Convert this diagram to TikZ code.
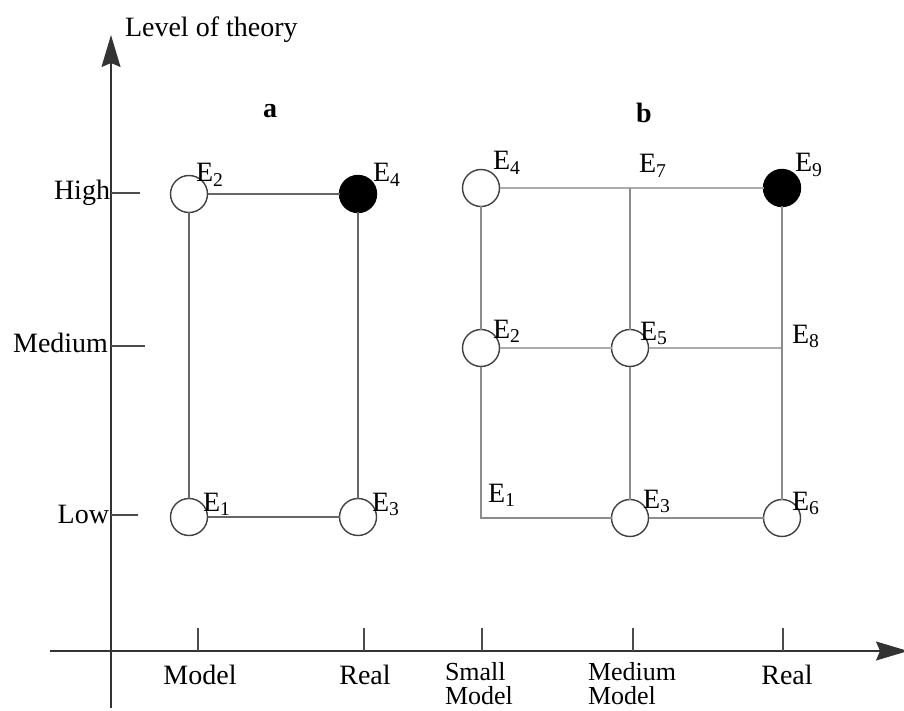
\documentclass[tikz,border=0pt]{standalone}
\usepackage{fontspec}
\setmainfont{Liberation Serif}
\usetikzlibrary{arrows.meta}
\begin{document}
\begin{tikzpicture}[x=1pt,y=-1pt,
  every node/.style={font=\fontsize{28}{23}\selectfont, inner sep=0pt, outer sep=0pt},
  circ/.style={circle, draw=black!75, line width=1.4pt, minimum size=37pt, fill=white},
  filledc/.style={circ, fill=black, draw=black},
  lab/.style={anchor=base west},
  xlab2/.style={anchor=base west, font=\fontsize{26}{22}\selectfont},
  lnA/.style={draw=black!60, line width=1.7pt},
  lnH/.style={draw=black!33, line width=2.8pt},
  lnV/.style={draw=black!45, line width=1.6pt},
  axis/.style={draw=black!80, line width=1.4pt},
  tickm/.style={draw=black!70, line width=1.3pt}]
\useasboundingbox (0,0) rectangle (904,711);

% axes
\coordinate (yb) at (111,708);
\coordinate (yt) at (111,35);
\coordinate (xl) at (50,651);
\coordinate (xr) at (908,651);
\draw[axis,-{Stealth[length=32pt,width=19pt,inset=4pt]}] (yb) -- (yt);
\draw[axis,-{Stealth[length=32pt,width=19pt,inset=4pt]}] (xl) -- (xr);
\node[anchor=base west] (ylab) at (125,37) {Level of theory};

% y ticks
\coordinate (tH0) at (111,193); \coordinate (tH1) at (140,193);
\coordinate (tM0) at (111,346); \coordinate (tM1) at (145,346);
\coordinate (tL0) at (111,515); \coordinate (tL1) at (138,515);
\draw[tickm] (tH0) -- (tH1);
\draw[tickm] (tM0) -- (tM1);
\draw[tickm] (tL0) -- (tL1);
\node[anchor=base east] (lHigh) at (110,200) {High};
\node[anchor=base east] (lMed) at (108,352) {Medium};
\node[anchor=base east] (lLow) at (109,523) {Low};

% x ticks
\foreach \n/\x in {t1/198,t2/364,t3/482,t4/633,t5/783}{
  \coordinate (\n a) at (\x,651); \coordinate (\n b) at (\x,628);
  \draw[tickm] (\n a) -- (\n b);
}
\node[anchor=base] (xModel) at (200,684) {Model};
\node[anchor=base] (xReal1) at (365,684) {Real};
\node[xlab2] (xSmall) at (445,680) {Small};
\node[xlab2] (xSmallM) at (445,704) {Model};
\node[xlab2] (xMed) at (588,680) {Medium};
\node[xlab2] (xMedM) at (588,704) {Model};
\node[anchor=base] (xReal2) at (787,684) {Real};

% panel a
\node[font=\fontsize{28}{23}\selectfont\bfseries, anchor=base] (pa) at (270,118) {a};
\node[circ] (aE2) at (189,194) {};
\node[filledc] (aE4) at (358,194) {};
\node[circ] (aE1) at (189,517) {};
\node[circ] (aE3) at (358,517) {};
\draw[lnA] (aE2) -- (aE4);
\draw[lnA] (aE2) -- (aE1);
\draw[lnA] (aE4) -- (aE3);
\draw[lnA] (aE1) -- (aE3);
\node[lab] (laE2) at (196,182) {E\textsubscript{2}};
\node[lab] (laE4) at (373,182) {E\textsubscript{4}};
\node[lab] (laE1) at (203,511) {E\textsubscript{1}};
\node[lab] (laE3) at (372,511) {E\textsubscript{3}};

% panel b
\node[font=\fontsize{28}{23}\selectfont\bfseries, anchor=base] (pb) at (644,123) {b};
\node[circ] (bE4) at (481,188) {};
\node[filledc] (bE9) at (782,188) {};
\node[circ] (bE2) at (481,348) {};
\node[circ] (bE5) at (630,348) {};
\node[circ] (bE3) at (630,518) {};
\node[circ] (bE6) at (782,518) {};
\coordinate (bJ7) at (630,188);
\coordinate (bJ8) at (782,348);
\coordinate (bC1) at (481,518);
\draw[lnH] (bE4) -- (bE9);
\draw[lnH] (bE2) -- (bE5);
\draw[lnH] (bE5) -- (bJ8);
\draw[lnV] (bJ7) -- (bE5);
\draw[lnV] (bE5) -- (bE3);
\draw[lnV] (bE4) -- (bE2);
\draw[lnV] (bE2) -- (bC1) -- (bE3);
\draw[lnV] (bE3) -- (bE6);
\draw[lnV] (bE9) -- (bE6);
\node[lab] (lbE4) at (493,170) {E\textsubscript{4}};
\node[lab] (lbE7) at (639,173) {E\textsubscript{7}};
\node[lab] (lbE9) at (795,172) {E\textsubscript{9}};
\node[lab] (lbE2) at (493,338) {E\textsubscript{2}};
\node[lab] (lbE5) at (640,340) {E\textsubscript{5}};
\node[lab] (lbE8) at (792,343) {E\textsubscript{8}};
\node[lab] (lbE1) at (488,502) {E\textsubscript{1}};
\node[lab] (lbE3) at (643,508) {E\textsubscript{3}};
\node[lab] (lbE6) at (792,510) {E\textsubscript{6}};
\end{tikzpicture}
\end{document}
